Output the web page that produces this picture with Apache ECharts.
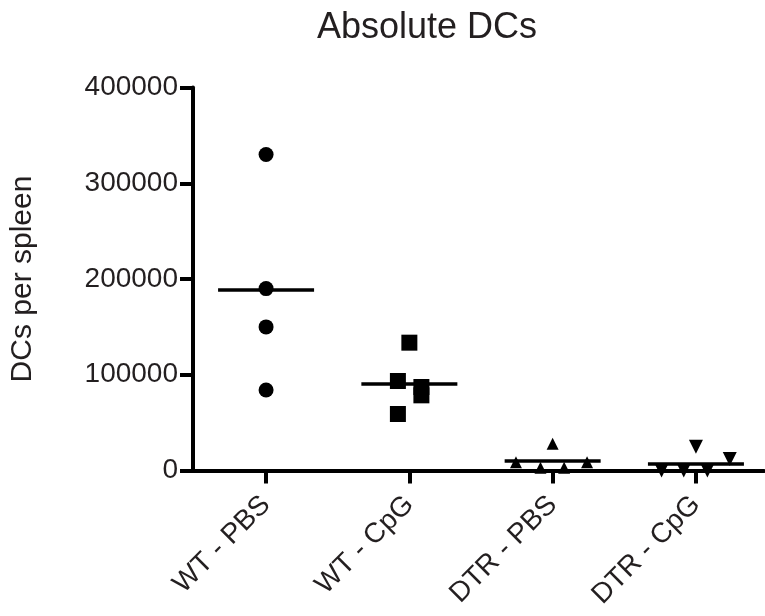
<!DOCTYPE html>
<html><head><meta charset="utf-8">
<script src="https://cdn.jsdelivr.net/npm/echarts@6/dist/echarts.min.js"></script>
<style>html,body{margin:0;padding:0;background:#fff}#c{width:765px;height:616px}</style>
</head><body><div id="c"></div>
<script>
const categories = ['WT - PBS', 'WT - CpG', 'DTR - PBS', 'DTR - CpG'];
const wtPbs = [330000, 190000, 150000, 84000];
const wtPbsJitter = [0, 0, 0, 0];
const wtCpg = [133500, 93500, 87200, 78500, 59000];
const wtCpgJitter = [0, -0.08, 0.084, 0.084, -0.08];
const dtrPbs = [27900, 8700, 2800, 2800, 8700];
const dtrPbsJitter = [0, -0.256, -0.085, 0.08, 0.24];
const dtrCpg = [24900, 12000, 0, 0, 0];
const dtrCpgJitter = [0, 0.236, -0.24, -0.085, 0.08];
const yTicks = [0, 100000, 200000, 300000, 400000];

const groups = [
  {vals: wtPbs, jit: wtPbsJitter, symbol: 'circle', size: 15, rot: 0},
  {vals: wtCpg, jit: wtCpgJitter, symbol: 'rect', size: 16, rot: 0},
  {vals: dtrPbs, jit: dtrPbsJitter, symbol: 'triangle', size: 12, rot: 0},
  {vals: dtrCpg, jit: dtrCpgJitter, symbol: 'triangle', size: 14, rot: 180}
];
const FONT = 'Liberation Sans, Arial, Helvetica, sans-serif';
const TXT = '#231f20';

const series = groups.map((g, i) => {
  const mean = g.vals.reduce((a, b) => a + b, 0) / g.vals.length;
  return {
    type: 'scatter',
    name: categories[i],
    data: g.vals.map((v, k) => [i + g.jit[k], v]),
    symbol: g.symbol,
    symbolSize: g.size,
    symbolRotate: g.rot,
    itemStyle: {color: '#000', opacity: 1},
    z: 3,
    markLine: {
      silent: true,
      symbol: ['none', 'none'],
      label: {show: false},
      lineStyle: {color: '#000', width: 3.5, type: 'solid'},
      emphasis: {disabled: true},
      data: [[{coord: [i - 0.335, mean]}, {coord: [i + 0.335, mean]}]],
      z: 4
    }
  };
});

const chart = echarts.init(document.getElementById('c'), null, {renderer: 'canvas'});
chart.setOption({
  animation: false,
  backgroundColor: '#fff',
  title: {
    text: 'Absolute DCs',
    left: 312, top: 5,
    textStyle: {fontFamily: FONT, fontSize: 36, fontWeight: 'normal', color: TXT}
  },
  grid: {left: 192, right: 1, top: 87.5, bottom: 145.5, containLabel: false},
  xAxis: {
    type: 'value',
    min: -0.51, max: 3.475,
    axisLine: {show: true, onZero: false, lineStyle: {color: '#000', width: 4}},
    axisTick: {show: true, customValues: [0, 1, 2, 3], length: 13, lineStyle: {color: '#000', width: 4}},
    axisLabel: {
      show: true, customValues: [0, 1, 2, 3],
      formatter: v => categories[Math.round(v)],
      rotate: 45, margin: 30,
      fontFamily: FONT, fontSize: 28, color: TXT
    },
    splitLine: {show: false}
  },
  yAxis: {
    type: 'value',
    min: 0, max: 400000, interval: 100000,
    axisLine: {show: true, onZero: false, lineStyle: {color: '#000', width: 4}},
    axisTick: {show: true, length: 13, lineStyle: {color: '#000', width: 4}},
    axisLabel: {
      margin: 15, fontFamily: FONT, fontSize: 28, color: TXT,
      formatter: v => String(v)
    },
    splitLine: {show: false},
    name: 'DCs per spleen',
    nameLocation: 'middle',
    nameGap: 155,
    nameTextStyle: {fontFamily: FONT, fontSize: 30, color: TXT}
  },
  series: series
});
</script>
</body></html>
